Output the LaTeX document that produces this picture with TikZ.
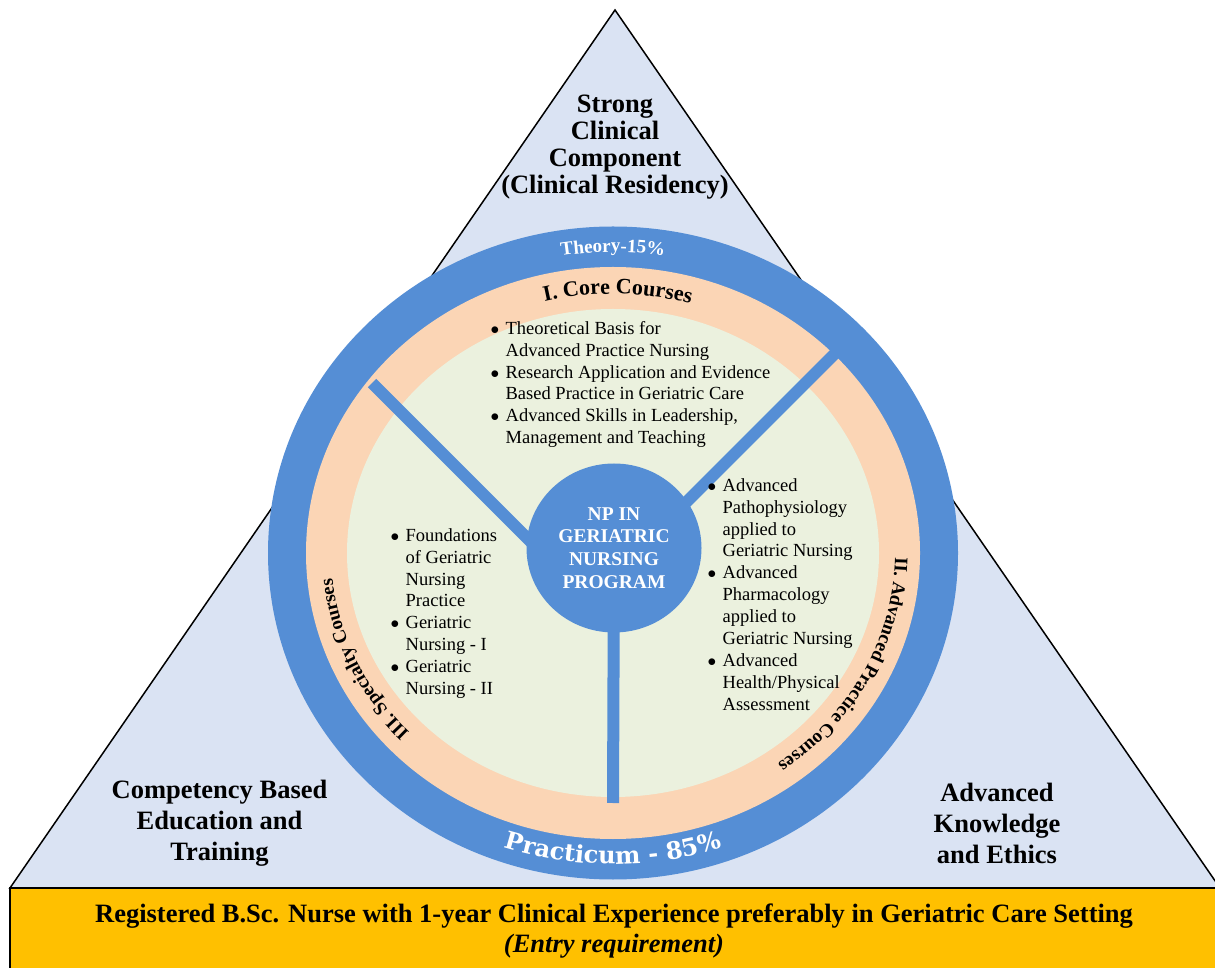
\documentclass[tikz,border=0pt]{standalone}
\usepackage{fontspec}
\setmainfont{Liberation Serif}
\newfontfamily\widefont{DejaVu Serif}
\usetikzlibrary{shapes.geometric,decorations.text}
\definecolor{trifill}{RGB}{218,227,243}
\definecolor{ringblue}{RGB}{85,142,213}
\definecolor{peach}{RGB}{251,213,181}
\definecolor{sage}{RGB}{235,241,222}
\definecolor{entrygold}{RGB}{255,192,0}

\tikzset{
  pillar/.style={font=\fontsize{26.5}{#1}\selectfont\bfseries, align=center, inner sep=0pt},
  hub/.style={ellipse, fill=ringblue, minimum width=175pt, minimum height=169pt, inner sep=0pt,
    text=white, align=center, font=\fontsize{19.5}{22.7}\selectfont\bfseries},
  spoke/.style={draw=ringblue, line width=12pt},
  courselist/.style={anchor=north west, inner sep=0pt, font=\fontsize{18.5}{21.9}\selectfont},
  ringlabel/.style={decorate, decoration={text along path, text align=center, text color=#1}},
}
\newcommand{\crsdot}{$\bullet$}

\begin{document}
\begin{tikzpicture}[x=1pt, y=1pt]
\useasboundingbox (0,0) rectangle (1215,967);
\fill[white] (0,0) rectangle (1215,967);
\clip (0,0) rectangle (1215,967);

% pyramid and entry bar
\draw[fill=trifill, line width=1.5pt] (10,79) -- (615,957) -- (1220,79) -- cycle;
\fill[entrygold, draw=black, line width=1.5pt] (10,-10) rectangle (1230,79);

\node[pillar=27] (clinical) at (615,819.5) {Strong\\Clinical\\Component\\(Clinical Residency)};
\node[pillar=31] (competency) at (219.5,144) {Competency Based\\Education and\\Training};
\node[pillar=31] (knowledge) at (997,144) {Advanced\\Knowledge\\and Ethics};
\node[font=\fontsize{26.5}{30}\selectfont\bfseries, align=center] (entry) at (614,36)
  {Registered B.Sc. Nurse with 1-year Clinical Experience preferably in Geriatric Care Setting\\
   \textit{(Entry requirement)}};

% rings
\coordinate (ring) at (613,414);
\fill[ringblue] (ring) ellipse [x radius=345, y radius=326.5];
\fill[peach] (ring) ellipse [x radius=307, y radius=286];
\fill[sage] (ring) ellipse [x radius=266, y radius=244];

\path[ringlabel=white, decoration={text={|\fontsize{19}{19}\selectfont\bfseries|Theory-15{\%}}}]
  (ring) ++(120:320.5 and 301) arc[start angle=120, end angle=60, x radius=320.5, y radius=301];
\path[ringlabel=white, decoration={text={|\widefont\fontsize{24}{24}\selectfont\bfseries|Practicum - 85{\%}}}]
  (ring) ++(235:340 and 311) arc[start angle=235, end angle=305, x radius=340, y radius=311];
\path[ringlabel=black, decoration={text={|\fontsize{22}{22}\selectfont\bfseries|I. Core Courses}}]
  (ring) ++(129:282 and 259) arc[start angle=129, end angle=49, x radius=282, y radius=259];
\path[ringlabel=black, decoration={text={|\fontsize{19}{19}\selectfont\bfseries|II. Advanced Practice Courses}}]
  (ring) ++(18:282 and 259) arc[start angle=18, end angle=-72, x radius=282, y radius=259];
\path[ringlabel=black, decoration={text={|\fontsize{19}{19}\selectfont\bfseries|III. Specialty Courses}}]
  (ring) ++(250:282 and 259) arc[start angle=250, end angle=158, x radius=282, y radius=259];

% spokes and hub
\coordinate (hubc) at (614,419);
\coordinate (spokeL) at (372,584);
\coordinate (spokeLin) at (548,408);
\coordinate (spokeR) at (834.5,613);
\coordinate (spokeRin) at (682,460.5);
\coordinate (spokeB) at (613,164);
\draw[spoke] (spokeL) -- (spokeLin);
\draw[spoke] (spokeR) -- (spokeRin);
\draw[spoke] (spokeB) -- (hubc);
\node[hub] (hub) at (hubc) {NP IN\\GERIATRIC\\NURSING\\PROGRAM};

% course lists
\node[courselist] (corelist) at (490.4,648.3) {\begin{tabular}{@{}l@{\hspace{6.4pt}}l@{}}
  \crsdot & Theoretical Basis for\\
   & Advanced Practice Nursing\\
  \crsdot & Research Application and Evidence\\
   & Based Practice in Geriatric Care\\
  \crsdot & Advanced Skills in Leadership,\\
   & Management and Teaching
\end{tabular}};
\node[courselist] (advlist) at (707.4,491.3) {\begin{tabular}{@{}l@{\hspace{6.4pt}}l@{}}
  \crsdot & Advanced\\
   & Pathophysiology\\
   & applied to\\
   & Geriatric Nursing\\
  \crsdot & Advanced\\
   & Pharmacology\\
   & applied to\\
   & Geriatric Nursing\\
  \crsdot & Advanced\\
   & Health/Physical\\
   & Assessment
\end{tabular}};
\node[courselist] (speclist) at (390.4,441.3) {\begin{tabular}{@{}l@{\hspace{6.4pt}}l@{}}
  \crsdot & Foundations\\
   & of Geriatric\\
   & Nursing\\
   & Practice\\
  \crsdot & Geriatric\\
   & Nursing - I\\
  \crsdot & Geriatric\\
   & Nursing - II
\end{tabular}};
\end{tikzpicture}
\end{document}
